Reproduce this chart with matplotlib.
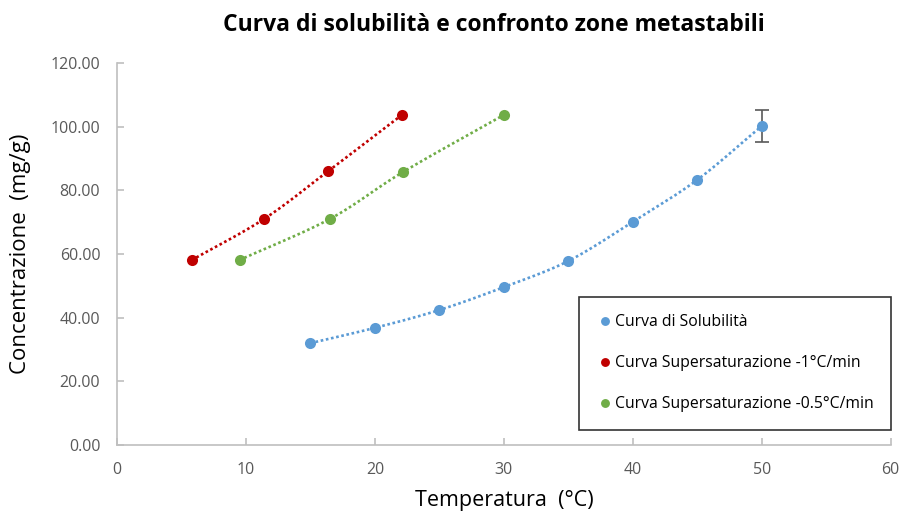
import numpy as np
import matplotlib
matplotlib.use("Agg")
import matplotlib.pyplot as plt

plt.rcParams['font.family'] = ['Open Sans', 'DejaVu Sans']

# Data
sol_T = [15, 20, 25, 30, 35, 40, 45, 50]
sol_C = [32.0, 36.8, 42.4, 49.6, 57.8, 70.1, 83.3, 100.2]
sol_err = [0, 0, 0, 0, 0, 0, 0, 5.0]

sup1_T = [5.8, 11.4, 16.4, 22.1]
sup1_C = [58.1, 71.0, 86.1, 103.7]

sup05_T = [9.5, 16.5, 22.2, 30.0]
sup05_C = [58.1, 71.0, 85.8, 103.7]

labels = ["Curva di Solubilità", "Curva Supersaturazione -1°C/min",
          "Curva Supersaturazione -0.5°C/min"]
colors = ["#5B9BD5", "#C00000", "#70AD47"]
xticks = [0, 10, 20, 30, 40, 50, 60]
yticks = [0, 20, 40, 60, 80, 100, 120]


def smooth(x, y, n=30):
    # Catmull-Rom curve through the points (rendering of smoothed line)
    x = np.asarray(x, float); y = np.asarray(y, float)
    P = np.column_stack([x, y])
    P = np.vstack([2 * P[0] - P[1], P, 2 * P[-1] - P[-2]])
    out = []
    t = np.linspace(0, 1, n)
    for i in range(1, len(P) - 2):
        p0, p1, p2, p3 = P[i - 1], P[i], P[i + 1], P[i + 2]
        tt = t[:, None]
        seg = 0.5 * ((2 * p1) + (-p0 + p2) * tt + (2 * p0 - 5 * p1 + 4 * p2 - p3) * tt ** 2
                     + (-p0 + 3 * p1 - 3 * p2 + p3) * tt ** 3)
        out.append(seg)
    S = np.vstack(out)
    return S[:, 0], S[:, 1]


fig = plt.figure(figsize=(9.07, 5.19), dpi=100)
ax = fig.add_axes([0.129, 0.1426, 0.853, 0.736])

series = [(sol_T, sol_C), (sup1_T, sup1_C), (sup05_T, sup05_C)]
for (xs, ys), c, lab in zip(series, colors, labels):
    sx, sy = smooth(xs, ys)
    ax.plot(sx, sy, linestyle=(0, (1, 1)), color=c, lw=1.9, zorder=2)
    ax.plot(xs, ys, 'o', color=c, ms=8, label=lab, zorder=3, markeredgewidth=0)

ax.errorbar(sol_T[-1:], sol_C[-1:], yerr=sol_err[-1:], fmt='none', ecolor='#595959',
            elinewidth=1.2, capsize=5, capthick=1.2, zorder=1)

ax.set_xlim(0, 60)
ax.set_ylim(0, 120)
ax.set_xticks(xticks)
ax.set_yticks(yticks)
ax.set_yticklabels([f"{v:.2f}" for v in yticks])
for s in ['top', 'right']:
    ax.spines[s].set_visible(False)
for s in ['left', 'bottom']:
    ax.spines[s].set_color('#BFBFBF')
    ax.spines[s].set_linewidth(1.2)
ax.tick_params(direction='in', length=5, color='#BFBFBF', width=1.2,
               labelcolor='#595959', labelsize=11.5)
ax.tick_params(axis='x', pad=12)
ax.tick_params(axis='y', pad=12)

ax.set_xlabel("Temperatura  (°C)", fontsize=15.5, color='#000000', labelpad=9)
ax.set_ylabel("Concentrazione  (mg/g)", fontsize=16, color='#000000', labelpad=14)
fig.suptitle("Curva di solubilità e confronto zone metastabili", fontsize=16.5,
             fontweight='bold', y=0.975, x=0.545)

leg = ax.legend(loc='lower right', bbox_to_anchor=(1.0, 0.04), frameon=True,
                fancybox=False, edgecolor='black', fontsize=11.3, labelspacing=1.6,
                handletextpad=0.0, handlelength=1.2, borderpad=1.1, markerscale=0.8,
                borderaxespad=0)
leg.get_frame().set_linewidth(1.2)

fig.savefig("out.png", dpi=100, facecolor='white')
